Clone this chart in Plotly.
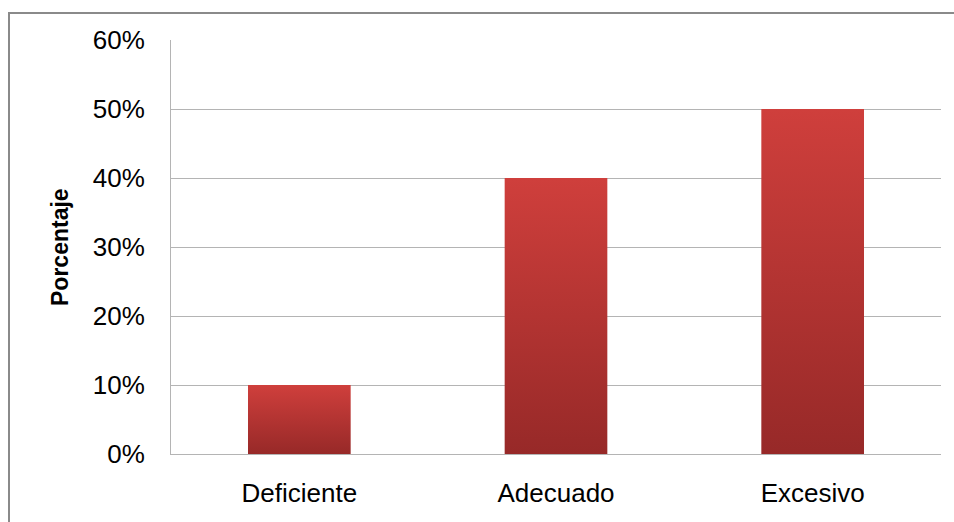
import plotly.graph_objects as go

categories = ["Deficiente", "Adecuado", "Excesivo"]
percentages = [10, 40, 50]
y_ticks = [0, 10, 20, 30, 40, 50, 60]
y_tick_labels = ["0%", "10%", "20%", "30%", "40%", "50%", "60%"]

BAR_HALF_WIDTH = 0.2
BAR_TOP = "#CF3F3C"
BAR_BOTTOM = "#972928"
GRID = "#B4B4B4"
FONT = "Liberation Sans, Arial, sans-serif"

fig = go.Figure()

# each bar is a filled rectangle on the axes so it can carry a vertical gradient
for i, (cat, val) in enumerate(zip(categories, percentages)):
    x0, x1 = i - BAR_HALF_WIDTH, i + BAR_HALF_WIDTH
    fig.add_trace(go.Scatter(
        x=[x0, x1, x1, x0, x0],
        y=[0, 0, val, val, 0],
        mode="lines",
        line=dict(width=0, color=BAR_BOTTOM),
        fill="toself",
        fillgradient=dict(type="vertical",
                          colorscale=[[0, BAR_BOTTOM], [1, BAR_TOP]]),
        name=cat,
        hoverinfo="text",
        text=f"{cat}: {val}%",
        showlegend=False,
    ))

# outer chart frame
fig.add_shape(type="rect", xref="paper", yref="paper",
              x0=(9 - 171) / 770, x1=1.2, y0=-0.5, y1=1 + (40 - 13) / 414,
              line=dict(color="#8A8A8A", width=2), layer="below")

fig.add_annotation(text="<b>Porcentaje</b>", xref="paper", yref="paper",
                   x=(60 - 171) / 770, y=0.5, xanchor="center", yanchor="middle",
                   textangle=-90, showarrow=False,
                   font=dict(family=FONT, size=23, color="#000000"))

fig.update_layout(
    width=954, height=522,
    margin=dict(l=171, r=13, t=40, b=68),
    paper_bgcolor="white", plot_bgcolor="white",
    font=dict(family=FONT, size=26, color="#000000"),
    xaxis=dict(
        range=[-0.5, 2.5],
        tickmode="array", tickvals=list(range(len(categories))),
        ticktext=categories,
        showgrid=False, zeroline=False,
        showline=True, linecolor=GRID, linewidth=1,
        ticks="", ticklabelstandoff=16,
        fixedrange=True,
    ),
    yaxis=dict(
        range=[0, 60],
        tickmode="array", tickvals=y_ticks, ticktext=y_tick_labels,
        showgrid=True, gridcolor=GRID, gridwidth=1,
        zeroline=False,
        showline=True, linecolor=GRID, linewidth=1,
        ticks="", ticklabelstandoff=20,
        fixedrange=True,
    ),
)

fig.write_html("out.html")
